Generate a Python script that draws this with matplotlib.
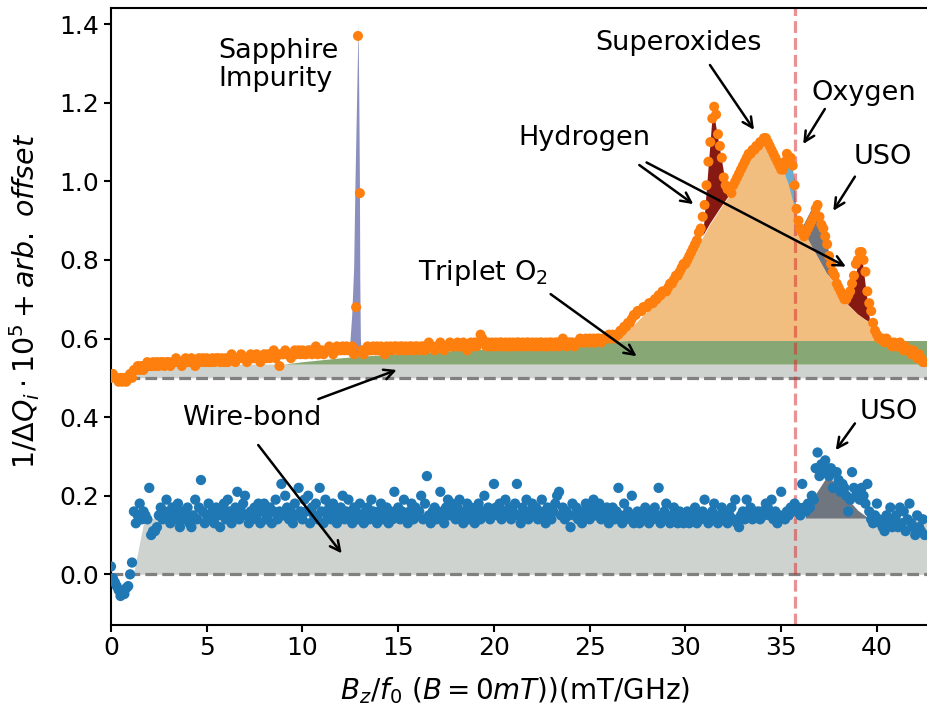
import numpy as np
import matplotlib
matplotlib.use("Agg")
import matplotlib.pyplot as plt

# ---------------- data ----------------
field = np.round(np.arange(0, 42.55, 0.1), 2)   # B_z/f0 grid (mT/GHz)

top_signal = [
    0.50,0.51,0.50,0.50,0.49,0.50,0.49,0.50,0.49,0.50,
    0.51,0.50,0.52,0.52,0.53,0.52,0.53,0.52,0.53,0.54,
    0.53,0.53,0.54,0.53,0.54,0.53,0.54,0.54,0.53,0.54,
    0.54,0.53,0.54,0.54,0.55,0.54,0.54,0.53,0.54,0.55,
    0.54,0.54,0.55,0.54,0.53,0.54,0.55,0.54,0.55,0.54,
    0.55,0.54,0.54,0.55,0.54,0.55,0.55,0.54,0.55,0.54,
    0.55,0.54,0.55,0.56,0.55,0.54,0.55,0.55,0.56,0.55,
    0.55,0.54,0.55,0.56,0.55,0.55,0.56,0.55,0.54,0.55,
    0.56,0.55,0.56,0.55,0.56,0.57,0.55,0.56,0.53,0.56,
    0.56,0.57,0.56,0.56,0.55,0.56,0.57,0.56,0.57,0.56,
    0.57,0.56,0.56,0.57,0.57,0.56,0.57,0.58,0.56,0.57,
    0.57,0.56,0.57,0.57,0.58,0.57,0.56,0.57,0.58,0.57,
    0.57,0.58,0.57,0.58,0.57,0.57,0.58,0.56,0.68,1.37,
    0.97,0.57,0.56,0.57,0.58,0.57,0.57,0.58,0.57,0.58,
    0.57,0.58,0.57,0.56,0.58,0.57,0.58,0.57,0.58,0.58,
    0.57,0.58,0.58,0.57,0.58,0.57,0.58,0.58,0.57,0.58,
    0.58,0.57,0.58,0.58,0.57,0.58,0.59,0.58,0.58,0.57,
    0.58,0.58,0.59,0.58,0.57,0.58,0.58,0.59,0.58,0.58,
    0.58,0.59,0.58,0.58,0.59,0.58,0.57,0.58,0.59,0.58,
    0.59,0.58,0.59,0.61,0.60,0.59,0.58,0.59,0.58,0.59,
    0.58,0.59,0.58,0.59,0.59,0.58,0.59,0.58,0.59,0.58,
    0.59,0.58,0.59,0.59,0.58,0.59,0.58,0.59,0.59,0.58,
    0.59,0.58,0.59,0.58,0.59,0.59,0.58,0.59,0.58,0.59,
    0.59,0.58,0.59,0.59,0.58,0.59,0.60,0.59,0.58,0.59,
    0.59,0.59,0.58,0.59,0.59,0.60,0.59,0.59,0.60,0.59,
    0.60,0.59,0.60,0.59,0.60,0.60,0.59,0.60,0.60,0.60,
    0.61,0.60,0.61,0.60,0.61,0.61,0.62,0.62,0.63,0.63,
    0.64,0.64,0.65,0.66,0.66,0.67,0.67,0.67,0.68,0.68,
    0.68,0.69,0.69,0.69,0.70,0.70,0.71,0.71,0.72,0.72,
    0.72,0.73,0.74,0.74,0.75,0.76,0.76,0.77,0.78,0.79,
    0.79,0.80,0.81,0.82,0.83,0.84,0.85,0.87,0.88,0.91,
    0.94,0.99,1.05,1.10,1.16,1.19,1.17,1.12,1.09,1.06,
    1.01,0.99,0.98,0.98,0.97,0.99,1.00,1.01,1.02,1.03,
    1.04,1.05,1.06,1.07,1.07,1.08,1.08,1.09,1.09,1.10,
    1.10,1.11,1.11,1.10,1.09,1.08,1.07,1.06,1.05,1.04,
    1.03,1.03,1.05,1.07,1.06,1.06,1.04,0.99,0.93,0.90,
    0.88,0.87,0.86,0.87,0.88,0.89,0.90,0.91,0.93,0.94,
    0.91,0.89,0.88,0.86,0.84,0.81,0.79,0.77,0.76,0.74,
    0.73,0.72,0.71,0.70,0.70,0.71,0.72,0.74,0.76,0.79,
    0.80,0.82,0.82,0.80,0.77,0.72,0.69,0.67,0.64,0.62,
    0.61,0.60,0.60,0.60,0.59,0.60,0.59,0.59,0.58,0.59,
    0.58,0.58,0.59,0.58,0.57,0.58,0.57,0.57,0.56,0.57,
    0.56,0.55,0.56,0.55,0.54,0.54,
]

bottom_signal = [
    0.02,-0.01,-0.02,-0.03,-0.04,-0.055,-0.045,-0.05,-0.035,-0.03,
    0.00,0.03,0.16,0.13,0.15,0.18,0.14,0.16,0.15,0.14,
    0.22,0.10,0.11,0.11,0.12,0.15,0.17,0.14,0.16,0.19,
    0.15,0.13,0.17,0.16,0.14,0.18,0.12,0.16,0.14,0.15,
    0.17,0.13,0.12,0.15,0.19,0.14,0.17,0.24,0.16,0.13,
    0.15,0.18,0.14,0.16,0.13,0.17,0.15,0.12,0.16,0.18,
    0.14,0.19,0.16,0.13,0.15,0.17,0.21,0.14,0.16,0.18,
    0.20,0.15,0.13,0.16,0.14,0.17,0.15,0.18,0.13,0.16,
    0.18,0.14,0.15,0.17,0.13,0.16,0.19,0.14,0.16,0.23,
    0.15,0.20,0.17,0.14,0.16,0.13,0.18,0.15,0.22,0.16,
    0.14,0.19,0.16,0.20,0.13,0.17,0.15,0.18,0.14,0.22,
    0.16,0.13,0.19,0.15,0.17,0.14,0.18,0.16,0.13,0.15,
    0.17,0.20,0.14,0.16,0.19,0.15,0.13,0.17,0.16,0.14,
    0.18,0.15,0.13,0.16,0.17,0.14,0.19,0.16,0.15,0.13,
    0.16,0.18,0.14,0.15,0.17,0.13,0.16,0.14,0.21,0.15,
    0.17,0.14,0.16,0.19,0.15,0.13,0.16,0.18,0.14,0.17,
    0.15,0.16,0.20,0.14,0.18,0.25,0.15,0.13,0.16,0.17,
    0.14,0.16,0.21,0.15,0.13,0.17,0.19,0.15,0.18,0.16,
    0.14,0.17,0.19,0.15,0.13,0.16,0.18,0.14,0.17,0.15,
    0.13,0.16,0.18,0.14,0.16,0.20,0.15,0.17,0.14,0.16,
    0.23,0.17,0.15,0.18,0.14,0.16,0.19,0.15,0.17,0.14,
    0.16,0.18,0.23,0.15,0.13,0.17,0.15,0.19,0.14,0.16,
    0.18,0.15,0.17,0.14,0.16,0.19,0.15,0.13,0.17,0.16,
    0.14,0.16,0.18,0.20,0.21,0.15,0.17,0.14,0.16,0.15,
    0.12,0.18,0.15,0.17,0.14,0.16,0.13,0.15,0.18,0.16,
    0.14,0.17,0.19,0.15,0.16,0.18,0.14,0.16,0.15,0.17,
    0.13,0.15,0.17,0.14,0.16,0.22,0.15,0.13,0.18,0.14,
    0.16,0.15,0.20,0.13,0.14,0.16,0.13,0.15,0.14,0.17,
    0.15,0.13,0.16,0.14,0.17,0.15,0.22,0.13,0.14,0.16,
    0.18,0.14,0.13,0.15,0.17,0.14,0.13,0.16,0.15,0.13,
    0.14,0.16,0.13,0.15,0.14,0.17,0.13,0.15,0.14,0.16,
    0.19,0.15,0.13,0.14,0.16,0.18,0.14,0.13,0.15,0.17,
    0.16,0.14,0.13,0.15,0.17,0.14,0.19,0.13,0.12,0.15,
    0.16,0.14,0.19,0.15,0.17,0.14,0.16,0.15,0.16,0.14,
    0.16,0.15,0.18,0.17,0.15,0.19,0.14,0.16,0.13,0.15,
    0.21,0.15,0.14,0.16,0.15,0.17,0.16,0.18,0.16,0.17,
    0.15,0.23,0.17,0.16,0.18,0.17,0.20,0.19,0.27,0.31,
    0.25,0.28,0.26,0.29,0.27,0.25,0.27,0.22,0.26,0.26,
    0.24,0.21,0.23,0.22,0.20,0.16,0.19,0.26,0.22,0.20,
    0.21,0.19,0.22,0.20,0.18,0.23,0.16,0.14,0.13,0.15,
    0.18,0.14,0.13,0.12,0.11,0.15,0.13,0.17,0.12,0.14,
    0.15,0.12,0.17,0.13,0.16,0.11,0.14,0.18,0.13,0.12,
    0.10,0.15,0.12,0.11,0.14,0.10,
]

# fitted component outlines (x, y)
wire_top_x = [0.0, 1.1, 1.7, 42.6]
wire_top_y = [0.50, 0.50, 0.535, 0.535]
wire_bot_x = [0.0, 1.17, 1.75, 42.6]
wire_bot_y = [0.0, 0.0, 0.143, 0.143]

triplet_x = [9.0, 10, 11, 12, 13, 14, 15, 16, 17, 18, 19, 20, 21, 22, 23, 24, 25, 26, 27, 42.6]
triplet_y = [0.535, 0.541, 0.546, 0.551, 0.555, 0.558, 0.561, 0.564, 0.567, 0.570,
             0.572, 0.575, 0.578, 0.581, 0.584, 0.587, 0.590, 0.593, 0.595, 0.595]

superox_x = [26.4, 26.8, 27.3, 27.8, 28.3, 28.8, 29.3, 29.8, 30.3, 30.8, 31.3, 31.8,
             32.3, 32.8, 33.3, 33.8, 34.2, 34.6, 35.0, 35.4, 35.8, 36.2, 36.6, 37.0,
             37.4, 37.8, 38.2, 38.6, 39.0, 39.4, 39.8, 39.95]
superox_y = [0.595, 0.615, 0.635, 0.66, 0.685, 0.71, 0.74, 0.77, 0.805, 0.85, 0.893, 0.93,
             0.965, 1.01, 1.055, 1.085, 1.10, 1.075, 1.045, 0.99, 0.915, 0.875, 0.835, 0.80,
             0.765, 0.735, 0.705, 0.68, 0.662, 0.648, 0.638, 0.595]

hydrogen1_x = [30.93, 31.45, 32.23, 31.8, 31.3]
hydrogen1_y = [0.862, 1.185, 0.96, 0.93, 0.893]
hydrogen2_x = [38.5, 39.2, 39.65, 39.4, 39.0]
hydrogen2_y = [0.686, 0.82, 0.641, 0.648, 0.662]

oxygen_x = [35.0, 35.25, 35.55, 35.72, 35.8, 35.4]
oxygen_y = [1.045, 1.065, 1.05, 1.0, 0.915, 0.99]

uso_top_x = [36.1, 36.84, 37.1, 37.45, 37.8, 37.96, 37.4, 37.0, 36.6]
uso_top_y = [0.882, 0.952, 0.89, 0.83, 0.76, 0.733, 0.765, 0.80, 0.835]

uso_bot_x = [36.24, 36.8, 37.4, 37.9, 38.5, 39.0, 39.5]
uso_bot_y = [0.145, 0.205, 0.25, 0.23, 0.19, 0.163, 0.145]

sapphire_x = [12.45, 12.6, 12.7, 12.77, 12.85, 12.93, 12.97, 13.0, 13.02, 13.05, 13.1]
sapphire_y = [0.553, 0.66, 0.78, 1.0, 1.2, 1.40, 1.2, 1.0, 0.75, 0.6, 0.554]

offset_top = 0.5
resonance_field = 35.72

# ---------------- plot ----------------
plt.rcParams['font.family'] = ['DejaVu Sans']
fig = plt.figure(figsize=(9.27, 7.07), dpi=100)
ax = fig.add_axes([0.1197, 0.1165, 0.880, 0.8727])

c_gray = '#cfd3cf'
c_green = '#87a874'
c_tan = '#f2be80'
c_red = '#861a13'
c_blue = '#6badd1'
c_slate = '#6f7680'
c_purple = '#8a8fbf'

ax.fill_between(wire_top_x, offset_top, wire_top_y, color=c_gray, lw=0, zorder=1)
ax.fill_between(wire_bot_x, 0, wire_bot_y, color=c_gray, lw=0, zorder=1)
ax.fill_between(triplet_x, wire_top_y[-1], triplet_y, color=c_green, lw=0, zorder=1)
ax.fill_between(superox_x, triplet_y[-1], superox_y, color=c_tan, lw=0, zorder=1)
ax.fill(hydrogen1_x, hydrogen1_y, color=c_red, lw=0, zorder=1.1)
ax.fill(hydrogen2_x, hydrogen2_y, color=c_red, lw=0, zorder=1.1)
ax.fill(oxygen_x, oxygen_y, color=c_blue, lw=0, zorder=1.1)
ax.fill(uso_top_x, uso_top_y, color=c_slate, lw=0, zorder=1.1)
ax.fill(sapphire_x, sapphire_y, color=c_purple, lw=0, zorder=1.1)
ax.fill_between(uso_bot_x, wire_bot_y[-1], uso_bot_y, color=c_slate, lw=0, zorder=1.1)

ax.axhline(offset_top, color='gray', ls='--', lw=2.3, zorder=2)
ax.axhline(0.0, color='gray', ls='--', lw=2.3, zorder=2)
ax.axvline(resonance_field, color='tab:red', alpha=0.5, ls='--', lw=2.3, zorder=2.5)

ax.scatter(field, top_signal, s=52, color='tab:orange', edgecolors='none', zorder=3)
ax.scatter(field, bottom_signal, s=55, color='tab:blue', edgecolors='none', zorder=3)

ax.set_xlim(0, 42.6)
ax.set_ylim(-0.128, 1.442)
ax.set_xticks([0, 5, 10, 15, 20, 25, 30, 35, 40])
ax.set_yticks([0.0, 0.2, 0.4, 0.6, 0.8, 1.0, 1.2, 1.4])
ax.yaxis.set_major_formatter(matplotlib.ticker.FormatStrFormatter('%.1f'))
ax.tick_params(labelsize=18, width=1.5, length=5)
for s in ['left', 'bottom', 'top']:
    ax.spines[s].set_linewidth(1.5)
ax.spines['right'].set_visible(False)

ax.set_xlabel(r'$B_z/f_0\ (B=0mT)$)(mT/GHz)', fontsize=20)
ax.set_ylabel(r'$1/\Delta Q_i \cdot 10^5 + arb.\ offset$', fontsize=20.5)
ax.xaxis.set_label_coords(0.495, -0.082)
ax.yaxis.set_label_coords(-0.085, 0.525)

tfs = 19.5
arrow = dict(arrowstyle='->', lw=1.8, color='black', shrinkA=0, shrinkB=0, mutation_scale=18)

def arr(tail, tip):
    ax.annotate('', xy=tip, xytext=tail, arrowprops=arrow, zorder=4)

ax.text(5.6, 1.295, 'Sapphire\nImpurity', fontsize=tfs, ha='left', va='center', linespacing=1.1)
ax.text(29.66, 1.352, 'Superoxides', fontsize=tfs, ha='center', va='center')
arr((31.28, 1.296), (33.58, 1.131))
ax.text(39.29, 1.224, 'Oxygen', fontsize=tfs, ha='center', va='center')
arr((37.28, 1.184), (36.15, 1.095))
ax.text(40.3, 1.062, 'USO', fontsize=tfs, ha='center', va='center')
arr((38.85, 1.012), (37.72, 0.925))
ax.text(24.7, 1.11, 'Hydrogen', fontsize=tfs, ha='center', va='center')
arr((27.59, 1.0415), (30.41, 0.942))
arr((27.97, 1.048), (38.38, 0.783))
ax.text(19.43, 0.767, r'Triplet O$_2$', fontsize=tfs, ha='center', va='center')
arr((22.96, 0.713), (27.45, 0.555))
ax.text(7.35, 0.397, 'Wire-bond', fontsize=tfs, ha='center', va='center')
arr((10.83, 0.446), (14.92, 0.52))
arr((7.69, 0.329), (12.05, 0.0534))
ax.text(40.63, 0.412, 'USO', fontsize=tfs, ha='center', va='center')
arr((38.85, 0.384), (37.85, 0.316))

fig.savefig('out.png', dpi=100)
